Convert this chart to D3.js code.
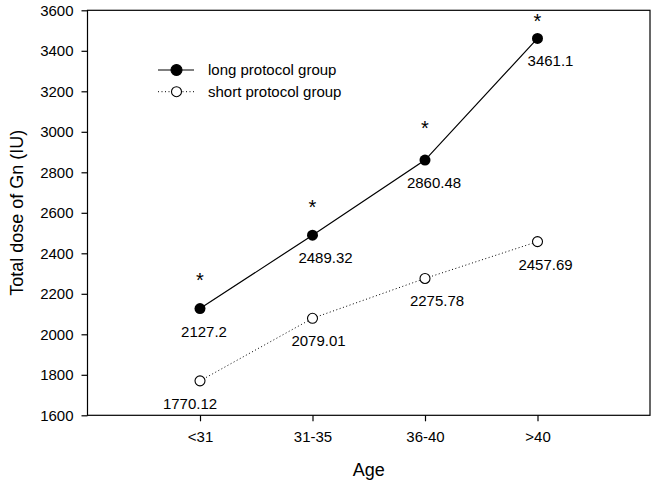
<!DOCTYPE html>
<html>
<head>
<meta charset="utf-8">
<script src="https://cdn.jsdelivr.net/npm/d3@7"></script>
<style>
  html, body { margin: 0; padding: 0; background: #fff; }
  svg { display: block; font-family: "Liberation Sans", Arial, sans-serif; }
</style>
</head>
<body>
<svg id="chart" width="658" height="485"></svg>
<script>
// ---- data ----
const categories = ["<31", "31-35", "36-40", ">40"];
const longGroup = [2127.2, 2489.32, 2860.48, 3461.1];
const shortGroup = [1770.12, 2079.01, 2275.78, 2457.69];
const longLabels = ["2127.2", "2489.32", "2860.48", "3461.1"];
const shortLabels = ["1770.12", "2079.01", "2275.78", "2457.69"];
const significant = [true, true, true, true];
const yTicks = [1600, 1800, 2000, 2200, 2400, 2600, 2800, 3000, 3200, 3400, 3600];
const seriesNames = ["long protocol group", "short protocol group"];

// ---- layout (label nudges, px) ----
const longLabelDx = [4, 13, 9, 13];
const shortLabelDx = [-10, 6, 12, 8];
const asteriskDy = [-22, -21, -25, -10];

const svg = d3.select("#chart");
const m = { left: 87.5, right: 650, top: 10.3, bottom: 415.3 };

const x = d3.scaleLinear().domain([0, categories.length + 1]).range([m.left, m.right]);
const y = d3.scaleLinear().domain([1600, 3600]).range([m.bottom, m.top]);

// frame
svg.append("rect")
  .attr("x", m.left).attr("y", m.top)
  .attr("width", m.right - m.left).attr("height", m.bottom - m.top)
  .attr("fill", "none").attr("stroke", "#000").attr("stroke-width", 1.2);

// y axis
const yAxis = d3.axisLeft(y).tickValues(yTicks).tickSize(6).tickPadding(8).tickFormat(d3.format("d"));
const gy = svg.append("g").attr("transform", `translate(${m.left},0)`).call(yAxis);
gy.select(".domain").remove();
gy.selectAll("line").attr("stroke", "#000").attr("stroke-width", 1.2);
gy.selectAll("text").attr("font-size", 15).attr("fill", "#000")
  .attr("font-family", "Liberation Sans, Arial, sans-serif");

// x axis
const xAxis = d3.axisBottom(x).tickValues(d3.range(1, categories.length + 1))
  .tickFormat(i => categories[i - 1]).tickSize(6).tickPadding(10);
const gx = svg.append("g").attr("transform", `translate(0,${m.bottom})`).call(xAxis);
gx.select(".domain").remove();
gx.selectAll("line").attr("stroke", "#000").attr("stroke-width", 1.2);
gx.selectAll("text").attr("font-size", 15).attr("fill", "#000")
  .attr("font-family", "Liberation Sans, Arial, sans-serif");

// axis titles
svg.append("text").attr("x", (m.left + m.right) / 2).attr("y", 476)
  .attr("text-anchor", "middle").attr("font-size", 18).text("Age");
svg.append("text")
  .attr("transform", `translate(23,${(m.top + m.bottom) / 2}) rotate(-90)`)
  .attr("text-anchor", "middle").attr("font-size", 18).text("Total dose of Gn (IU)");

// lines
const line = d3.line().x((d, i) => x(i + 1)).y(d => y(d));
svg.append("path").datum(shortGroup).attr("d", line)
  .attr("fill", "none").attr("stroke", "#000").attr("stroke-width", 1)
  .attr("stroke-dasharray", "1,2.5");
svg.append("path").datum(longGroup).attr("d", line)
  .attr("fill", "none").attr("stroke", "#000").attr("stroke-width", 1.2);

// markers
svg.selectAll(".sp").data(shortGroup).enter().append("circle")
  .attr("cx", (d, i) => x(i + 1)).attr("cy", d => y(d)).attr("r", 5)
  .attr("fill", "#fff").attr("stroke", "#000").attr("stroke-width", 1.1);
svg.selectAll(".lp").data(longGroup).enter().append("circle")
  .attr("cx", (d, i) => x(i + 1)).attr("cy", d => y(d)).attr("r", 5.5)
  .attr("fill", "#000");

// value labels
svg.selectAll(".ll").data(longGroup).enter().append("text")
  .attr("x", (d, i) => x(i + 1) + longLabelDx[i]).attr("y", d => y(d) + 28)
  .attr("text-anchor", "middle").attr("font-size", 15).text((d, i) => longLabels[i]);
svg.selectAll(".sl").data(shortGroup).enter().append("text")
  .attr("x", (d, i) => x(i + 1) + shortLabelDx[i]).attr("y", d => y(d) + 28)
  .attr("text-anchor", "middle").attr("font-size", 15).text((d, i) => shortLabels[i]);

// significance asterisks
longGroup.forEach((d, i) => {
  if (!significant[i]) return;
  svg.append("text")
    .attr("x", x(i + 1)).attr("y", y(d) + asteriskDy[i])
    .attr("text-anchor", "middle").attr("font-size", 20).text("*");
});

// legend
const lg = svg.append("g");
const rows = [
  { name: seriesNames[0], y: 70, dash: null, fill: "#000", r: 5.5, sw: 1.2 },
  { name: seriesNames[1], y: 91.7, dash: "1,2.5", fill: "#fff", r: 5, sw: 1 }
];
rows.forEach(r => {
  lg.append("line").attr("x1", 158).attr("x2", 194).attr("y1", r.y).attr("y2", r.y)
    .attr("stroke", "#000").attr("stroke-width", r.sw).attr("stroke-dasharray", r.dash);
  lg.append("circle").attr("cx", 176.5).attr("cy", r.y).attr("r", r.r)
    .attr("fill", r.fill).attr("stroke", "#000").attr("stroke-width", 1.1);
  lg.append("text").attr("x", 208).attr("y", r.y).attr("dy", "0.35em")
    .attr("font-size", 15).text(r.name);
});
</script>
</body>
</html>
